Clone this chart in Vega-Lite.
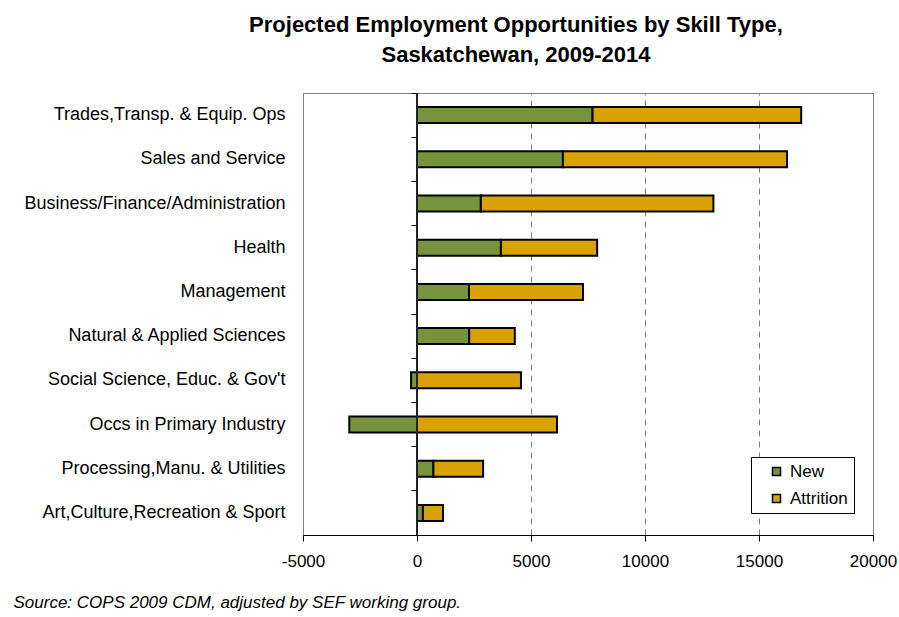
{
  "$schema": "https://vega.github.io/schema/vega-lite/v6.json",
  "autosize": "none",
  "width": 570,
  "height": 442,
  "padding": {"left": 303, "top": 93, "right": 26, "bottom": 82},
  "background": "white",
  "title": {
    "text": ["Projected Employment Opportunities by Skill Type,", "Saskatchewan, 2009-2014"],
    "font": "Liberation Sans",
    "fontSize": 22,
    "fontWeight": "bold",
    "lineHeight": 30,
    "color": "black",
    "anchor": "middle",
    "frame": "group",
    "dx": -72,
    "offset": 26
  },
  "data": {
    "values": [
      {"cat": "Trades,Transp. & Equip. Ops", "series": "New", "value": 7700},
      {"cat": "Trades,Transp. & Equip. Ops", "series": "Attrition", "value": 9150},
      {"cat": "Sales and Service", "series": "New", "value": 6400},
      {"cat": "Sales and Service", "series": "Attrition", "value": 9830},
      {"cat": "Business/Finance/Administration", "series": "New", "value": 2800},
      {"cat": "Business/Finance/Administration", "series": "Attrition", "value": 10200},
      {"cat": "Health", "series": "New", "value": 3680},
      {"cat": "Health", "series": "Attrition", "value": 4220},
      {"cat": "Management", "series": "New", "value": 2280},
      {"cat": "Management", "series": "Attrition", "value": 5000},
      {"cat": "Natural & Applied Sciences", "series": "New", "value": 2290},
      {"cat": "Natural & Applied Sciences", "series": "Attrition", "value": 2000},
      {"cat": "Social Science, Educ. & Gov't", "series": "New", "value": -260},
      {"cat": "Social Science, Educ. & Gov't", "series": "Attrition", "value": 4560},
      {"cat": "Occs in Primary Industry", "series": "New", "value": -2970},
      {"cat": "Occs in Primary Industry", "series": "Attrition", "value": 6140},
      {"cat": "Processing,Manu. & Utilities", "series": "New", "value": 720},
      {"cat": "Processing,Manu. & Utilities", "series": "Attrition", "value": 2180},
      {"cat": "Art,Culture,Recreation & Sport", "series": "New", "value": 260},
      {"cat": "Art,Culture,Recreation & Sport", "series": "Attrition", "value": 880}
    ]
  },
  "layer": [
    {
      "mark": {"type": "bar", "size": 16, "stroke": "black", "strokeWidth": 2},
      "encoding": {
        "y": {
          "field": "cat", "type": "nominal",
          "sort": ["Trades,Transp. & Equip. Ops", "Sales and Service", "Business/Finance/Administration", "Health", "Management", "Natural & Applied Sciences", "Social Science, Educ. & Gov't", "Occs in Primary Industry", "Processing,Manu. & Utilities", "Art,Culture,Recreation & Sport"],
          "scale": {"paddingInner": 0, "paddingOuter": 0},
          "axis": {"title": null, "domain": false, "ticks": false, "labelPadding": 18, "labelFont": "Liberation Sans", "labelFontSize": 18, "labelColor": "black", "labelLimit": 400, "grid": false}
        },
        "x": {
          "field": "value", "type": "quantitative", "stack": "zero",
          "scale": {"domain": [-5000, 20000], "nice": false},
          "axis": {
            "values": [-5000, 0, 5000, 10000, 15000, 20000],
            "labelExpr": "'' + datum.value",
            "grid": true,
            "gridDash": [6, 5],
            "gridColor": "#808080",
            "gridWidth": 1,
            "domainColor": "black",
            "domainWidth": 1,
            "tickColor": "black",
            "tickSize": 6,
            "labelPadding": 12,
            "labelFont": "Liberation Sans",
            "labelFontSize": 17,
            "labelColor": "black",
            "labelFlush": false,
            "title": "Source: COPS 2009 CDM, adjusted by SEF working group.",
            "titleX": -290,
            "titleY": 67,
            "titleAlign": "left",
            "titleBaseline": "middle",
            "titleFont": "Liberation Sans",
            "titleFontSize": 17,
            "titleFontStyle": "italic",
            "titleFontWeight": "normal",
            "titleColor": "black"
          }
        },
        "color": {
          "field": "series", "type": "nominal",
          "sort": ["New", "Attrition"],
          "scale": {"domain": ["New", "Attrition"], "range": ["#77933C", "#DAA200"]},
          "legend": {
            "title": null,
            "orient": "none",
            "legendX": 448,
            "legendY": 364,
            "strokeColor": "black",
            "fillColor": "white",
            "padding": 6,
            "symbolOffset": 11,
            "labelOffset": 5,
            "rowPadding": 9,
            "labelFont": "Liberation Sans",
            "labelFontSize": 17,
            "labelColor": "black",
            "symbolType": "square",
            "symbolSize": 64,
            "symbolStrokeColor": "black",
            "symbolStrokeWidth": 1.5
          }
        },
        "order": {"field": "series", "sort": "descending"}
      }
    },
    {
      "mark": {"type": "rule", "color": "#222", "strokeWidth": 1},
      "encoding": {"x": {"datum": 0, "type": "quantitative"}}
    },
    {
      "mark": {"type": "point", "opacity": 0},
      "encoding": {
        "x": {"datum": 0, "type": "quantitative"},
        "y": {
          "field": "cat", "type": "nominal",
          "sort": ["Trades,Transp. & Equip. Ops", "Sales and Service", "Business/Finance/Administration", "Health", "Management", "Natural & Applied Sciences", "Social Science, Educ. & Gov't", "Occs in Primary Industry", "Processing,Manu. & Utilities", "Art,Culture,Recreation & Sport"],
          "axis": {"orient": "left", "offset": -114, "labels": false, "domain": false, "ticks": true, "tickSize": 6, "tickColor": "black", "bandPosition": 0, "title": null, "grid": false}
        }
      }
    }
  ],
  "resolve": {"axis": {"y": "independent"}},
  "config": {
    "view": {"stroke": "#808080", "strokeWidth": 1}
  }
}
